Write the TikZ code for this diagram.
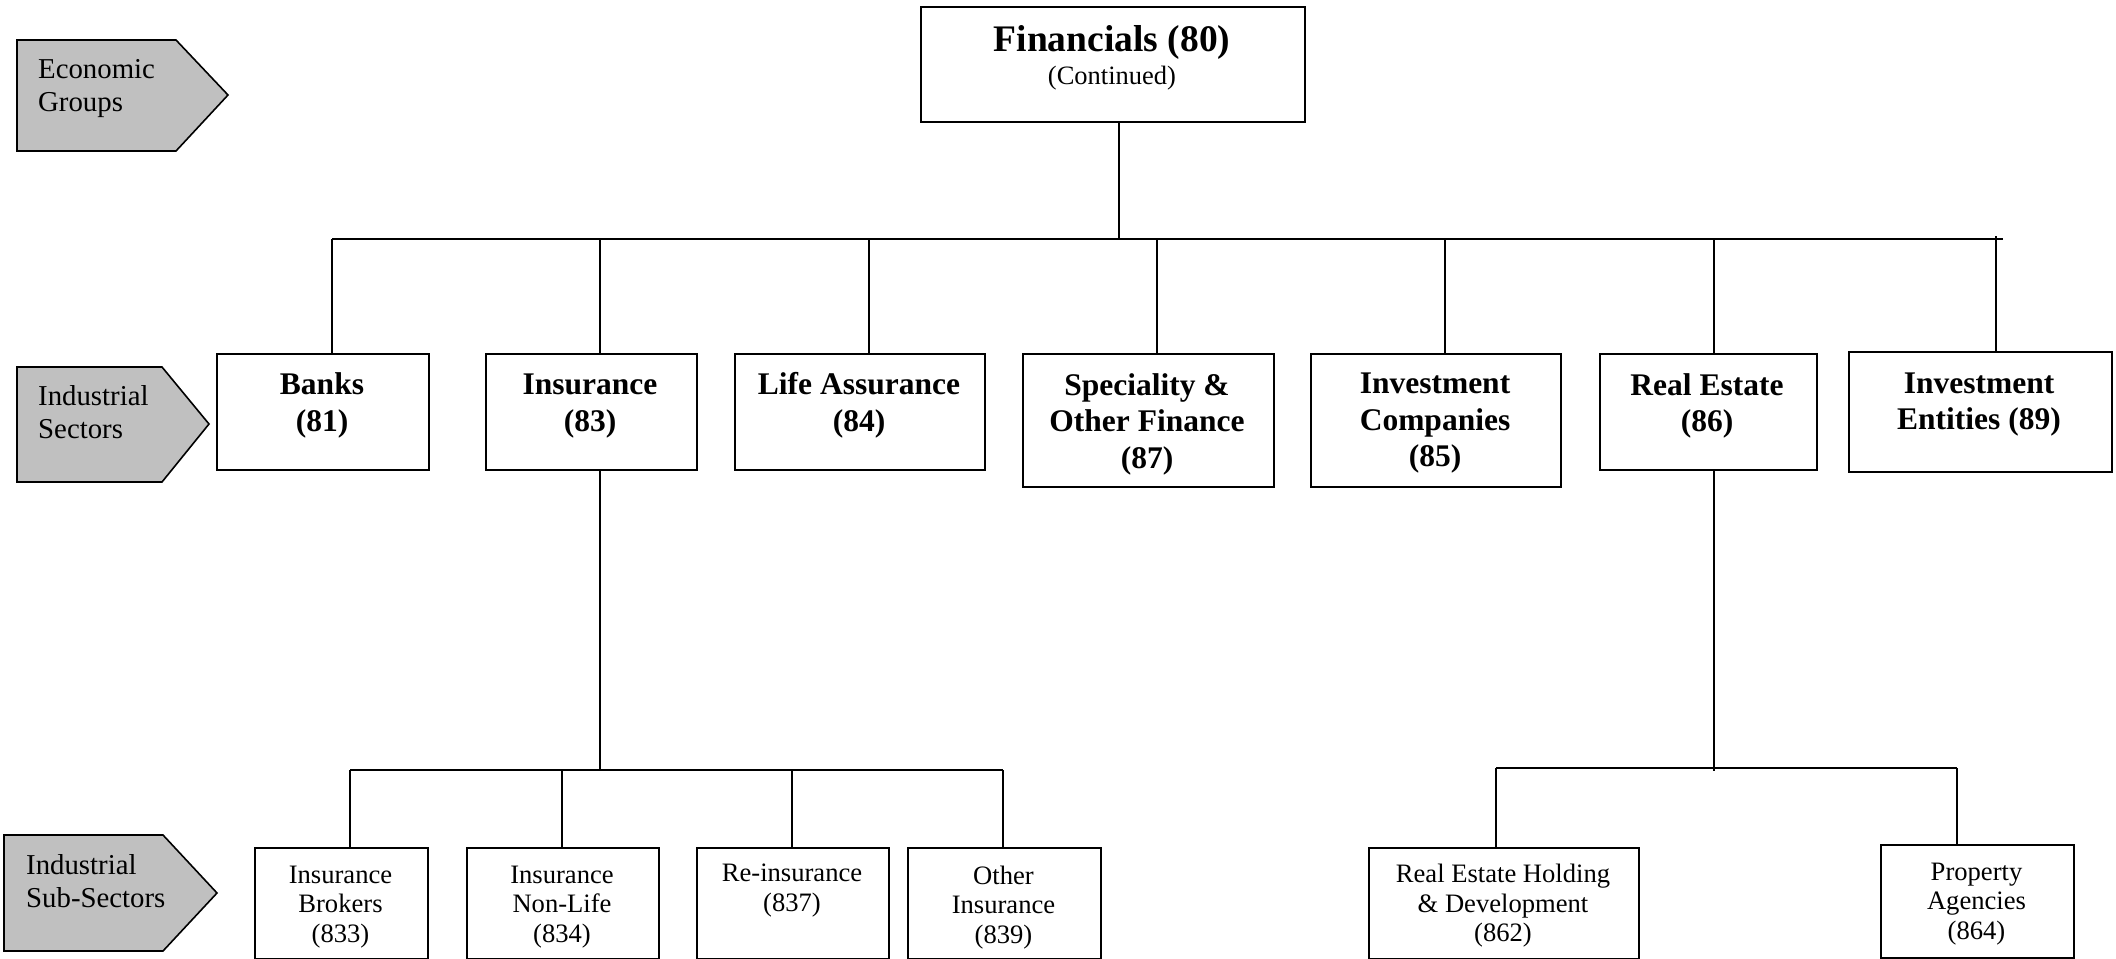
\documentclass[tikz,border=0pt]{standalone}
\usepackage{fontspec}
\setmainfont{Liberation Serif}
\definecolor{tagGray}{HTML}{C0C0C0}
\begin{document}
\begin{tikzpicture}[x=1pt,y=-1pt,
  ln/.style={line width=1.8pt},
  box/.style={draw, line width=1.8pt, inner sep=0pt, anchor=north west, fill=white},
  fintxt/.style={font=\fontsize{37.5}{42}\selectfont\bfseries, inner sep=0pt, anchor=base},
  contxt/.style={font=\fontsize{26.5}{30}\selectfont, inner sep=0pt, anchor=base},
  sect/.style={font=\fontsize{31.5}{36.5}\selectfont\bfseries, align=center, inner sep=0pt, anchor=north},
  subt/.style={font=\fontsize{26.6}{29.5}\selectfont, align=center, inner sep=0pt, anchor=north},
  lab/.style={font=\fontsize{28.8}{33}\selectfont, align=left, inner sep=0pt, anchor=north west},
  tag/.style={draw, fill=tagGray, line width=1.6pt, line join=miter}
]
\useasboundingbox (0,0) rectangle (2116,958);

% ---- level tags ----
\draw[tag] (17,40) -- (176,40) -- (228,95) -- (176,151) -- (17,151) -- cycle;
\node[lab] (tEco) at (38,59) {Economic\\Groups};
\draw[tag] (17,367) -- (162,367) -- (209,424) -- (162,482) -- (17,482) -- cycle;
\node[lab] (tSec) at (38,385) {Industrial\\Sectors};
\draw[tag] (4,835) -- (163,835) -- (217,893) -- (163,951) -- (4,951) -- cycle;
\node[lab] (tSub) at (26,854) {Industrial\\Sub-Sectors};

% ---- top box ----
\node[box, minimum width=384pt, minimum height=115pt] (fin) at (920,6) {};
\node[fintxt] (finT) at (1112,52) {Financials (80)};
\node[contxt] (finC) at (1112,84) {(Continued)};

% ---- sector boxes ----
\node[box, minimum width=212pt, minimum height=116pt] (banks) at (216,353) {};
\node[box, minimum width=211pt, minimum height=116pt] (insurance) at (485,353) {};
\node[box, minimum width=250pt, minimum height=116pt] (life) at (734,353) {};
\node[box, minimum width=251pt, minimum height=133pt] (spec) at (1022,353) {};
\node[box, minimum width=250pt, minimum height=133pt] (invco) at (1310,353) {};
\node[box, minimum width=217pt, minimum height=116pt] (realestate) at (1599,353) {};
\node[box, minimum width=263pt, minimum height=120pt] (invent) at (1848,351) {};

\node[sect] (banksT) at (322,372.5) {Banks\\(81)};
\node[sect] (insT) at (590,374) {Insurance\\(83)};
\node[sect] (lifeT) at (859,372.5) {Life Assurance\\(84)};
\node[sect] (specT) at (1147,373) {Speciality \&\\Other Finance\\(87)};
\node[sect] (invcoT) at (1435,373) {Investment\\Companies\\(85)};
\node[sect] (reT) at (1707,373) {Real Estate\\(86)};
\node[sect] (inventT) at (1979,372.5) {Investment\\Entities (89)};

% ---- sub-sector boxes ----
\node[box, minimum width=173pt, minimum height=111pt] (brokers) at (254,847) {};
\node[box, minimum width=192pt, minimum height=111pt] (nonlife) at (466,847) {};
\node[box, minimum width=192pt, minimum height=111pt] (reins) at (696,847) {};
\node[box, minimum width=193pt, minimum height=111pt] (other) at (907,847) {};
\node[box, minimum width=270pt, minimum height=111pt] (reh) at (1368,847) {};
\node[box, minimum width=193pt, minimum height=113pt] (prop) at (1880,844) {};

\node[subt] (brokersT) at (340.5,865.5) {Insurance\\Brokers\\(833)};
\node[subt] (nonlifeT) at (562,865.5) {Insurance\\Non-Life\\(834)};
\node[subt] (reinsT) at (792,864) {Re-insurance\\(837)};
\node[subt] (otherT) at (1003.5,865.5) {Other\\Insurance\\(839)};
\node[subt] (rehT) at (1503,864) {Real Estate Holding\\\& Development\\(862)};
\node[subt] (propT) at (1976.5,862.5) {Property\\Agencies\\(864)};

% ---- junction coordinates ----
\coordinate (jFin) at (1119,239);
\coordinate (jBanks) at (332,239);
\coordinate (jIns) at (600,239);
\coordinate (jLife) at (869,239);
\coordinate (jSpec) at (1157,239);
\coordinate (jInvco) at (1445,239);
\coordinate (jRE) at (1714,239);
\coordinate (jInvent) at (1996,239);
\coordinate (busEnd) at (2003,239);

\coordinate (sIns) at (600,770);
\coordinate (sBrk) at (350,770);
\coordinate (sNon) at (562,770);
\coordinate (sRe) at (792,770);
\coordinate (sOth) at (1003,770);

\coordinate (sRE) at (1714,771);
\coordinate (sReh) at (1496,768);
\coordinate (sProp) at (1957,768);

% ---- connectors: level 1 ----
\draw[ln] (fin.south -| jFin) -- (jFin);
\draw[ln] (jBanks) -- (busEnd);
\foreach \j/\n in {jBanks/banks, jIns/insurance, jLife/life, jSpec/spec, jInvco/invco, jRE/realestate}
  \draw[ln] (\j) -- (\j |- \n.north);
\draw[ln] ([yshift=3pt]jInvent) -- (jInvent |- invent.north);

% ---- connectors: insurance sub-sectors ----
\draw[ln] (insurance.south -| sIns) -- (sIns);
\draw[ln] (sBrk) -- (sOth);
\foreach \j/\n in {sBrk/brokers, sNon/nonlife, sRe/reins, sOth/other}
  \draw[ln] (\j) -- (\j |- \n.north);

% ---- connectors: real estate sub-sectors ----
\draw[ln] (realestate.south -| sRE) -- (sRE);
\draw[ln] (sReh) -- (sProp);
\foreach \j/\n in {sReh/reh, sProp/prop}
  \draw[ln] (\j) -- (\j |- \n.north);
\end{tikzpicture}
\end{document}
